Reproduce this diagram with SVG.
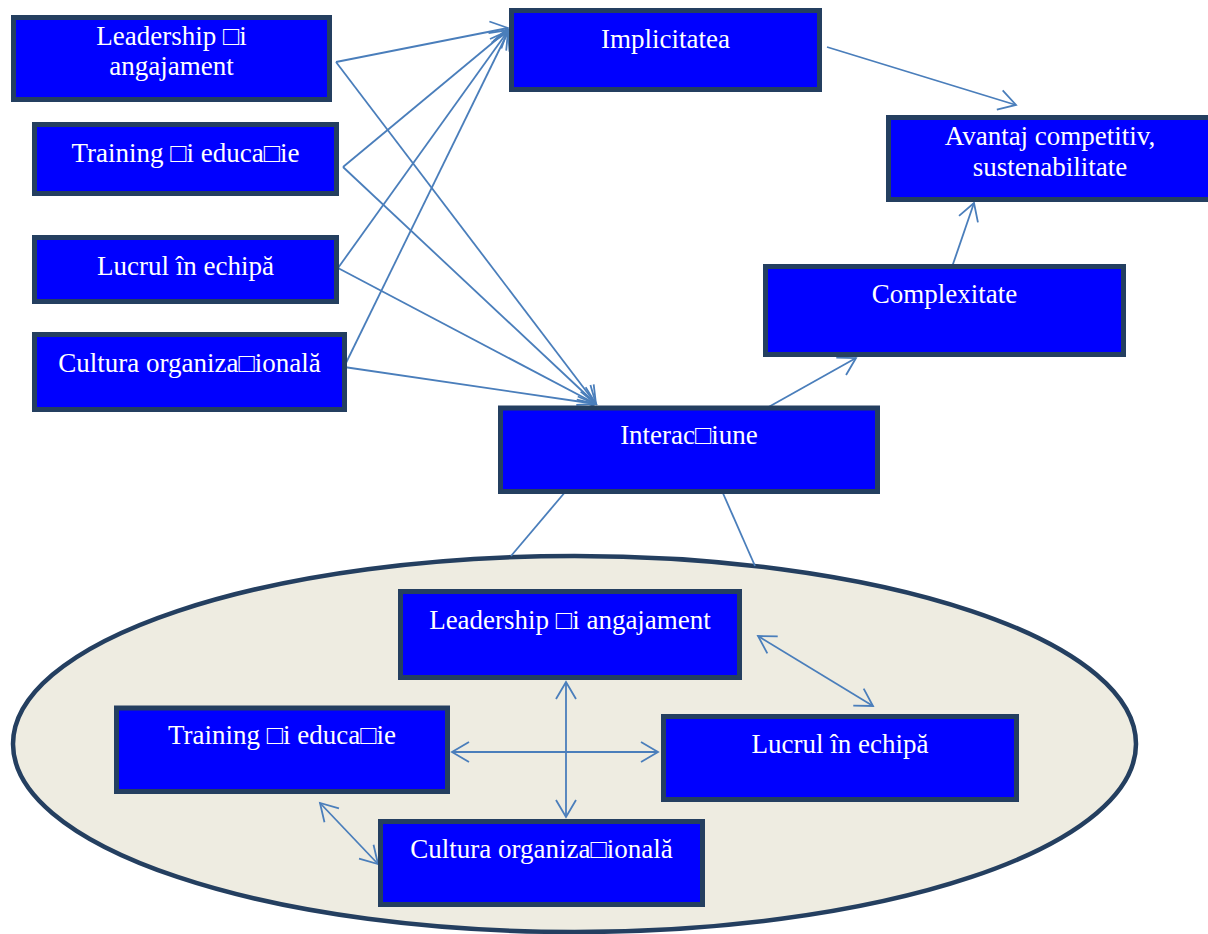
<svg xmlns="http://www.w3.org/2000/svg" width="1208" height="934" viewBox="0 0 1208 934">
  <style>
    .box { fill: #0000FF; stroke: #243F60; stroke-width: 5; }
    .lbl { font-family: "Liberation Serif", "Times New Roman", serif; font-size: 27px; fill: #FFFFFF; text-anchor: middle; }
    .conn { stroke: #4A7EBB; stroke-width: 1.8; fill: none; }
    .arr { marker-end: url(#head); }
    .dbl { marker-start: url(#head); marker-end: url(#head); }
  </style>
  <defs>
    <marker id="head" markerUnits="userSpaceOnUse" viewBox="-20 -12 22 24" refX="0" refY="0" markerWidth="22" markerHeight="24" orient="auto-start-reverse" overflow="visible">
      <path d="M-17,-10 L0,0 L-17,10" fill="none" stroke="#4A7EBB" stroke-width="1.8"/>
    </marker>
  </defs>
  <rect width="1208" height="934" fill="#FFFFFF"/>

  <g id="group-ellipse">
    <ellipse cx="574.5" cy="744" rx="561.5" ry="188" fill="#EEECE1" stroke="#243F60" stroke-width="4.5"/>
  </g>

  <g id="connectors">
    <path class="conn arr" d="M336,62 L508,28"/>
    <path class="conn arr" d="M336,62 L596,404"/>
    <path class="conn arr" d="M343,167 L508,30"/>
    <path class="conn arr" d="M343,167 L596,404"/>
    <path class="conn arr" d="M338,268 L508,31"/>
    <path class="conn arr" d="M338,268 L596,404"/>
    <path class="conn arr" d="M344,367 L508,32"/>
    <path class="conn arr" d="M344,367 L596,404"/>
    <path class="conn arr" d="M827,47 L1016,105"/>
    <path class="conn arr" d="M952,267 L974,203"/>
    <path class="conn arr" d="M765,409 L856,358"/>
    <path class="conn" d="M566,491 L511,556"/>
    <path class="conn" d="M722,491 L755,566"/>
    <path class="conn dbl" d="M758,636 L873,706"/>
    <path class="conn dbl" d="M566,682 L566,817"/>
    <path class="conn dbl" d="M452,752 L658,752"/>
    <path class="conn dbl" d="M320,803 L378,864"/>
  </g>

  <g id="node-leadership">
    <rect class="box" x="13.5" y="17.5" width="316" height="82"/>
    <text class="lbl" x="171.5" y="45">Leadership □i</text>
    <text class="lbl" x="171.5" y="75">angajament</text>
  </g>
  <g id="node-training">
    <rect class="box" x="34.5" y="124.5" width="302" height="69"/>
    <text class="lbl" x="185.5" y="162">Training □i educa□ie</text>
  </g>
  <g id="node-lucrul">
    <rect class="box" x="34.5" y="237.5" width="302" height="64"/>
    <text class="lbl" x="185.5" y="275">Lucrul în echipă</text>
  </g>
  <g id="node-cultura">
    <rect class="box" x="34.5" y="334.5" width="310" height="75"/>
    <text class="lbl" x="189.5" y="372">Cultura organiza□ională</text>
  </g>
  <g id="node-implicitatea">
    <rect class="box" x="511.5" y="10.5" width="308" height="79"/>
    <text class="lbl" x="665.5" y="48">Implicitatea</text>
  </g>
  <g id="node-avantaj">
    <rect class="box" x="888.5" y="117.5" width="323" height="82"/>
    <text class="lbl" x="1050" y="145">Avantaj competitiv,</text>
    <text class="lbl" x="1050" y="176">sustenabilitate</text>
  </g>
  <g id="node-complexitate">
    <rect class="box" x="765.5" y="266.5" width="358" height="88"/>
    <text class="lbl" x="944.5" y="303">Complexitate</text>
  </g>
  <g id="node-interactiune">
    <rect class="box" x="500.5" y="408" width="377" height="83.5"/>
    <text class="lbl" x="689" y="444">Interac□iune</text>
  </g>
  <g id="node-inner-leadership">
    <rect class="box" x="400.5" y="591.5" width="339" height="86"/>
    <text class="lbl" x="570" y="629">Leadership □i angajament</text>
  </g>
  <g id="node-inner-training">
    <rect class="box" x="116.5" y="708" width="331" height="83.5"/>
    <text class="lbl" x="282" y="744">Training □i educa□ie</text>
  </g>
  <g id="node-inner-lucrul">
    <rect class="box" x="663.5" y="716.5" width="353" height="83"/>
    <text class="lbl" x="840" y="753">Lucrul în echipă</text>
  </g>
  <g id="node-inner-cultura">
    <rect class="box" x="380.5" y="821.5" width="322" height="83"/>
    <text class="lbl" x="541.5" y="858">Cultura organiza□ională</text>
  </g>
</svg>
